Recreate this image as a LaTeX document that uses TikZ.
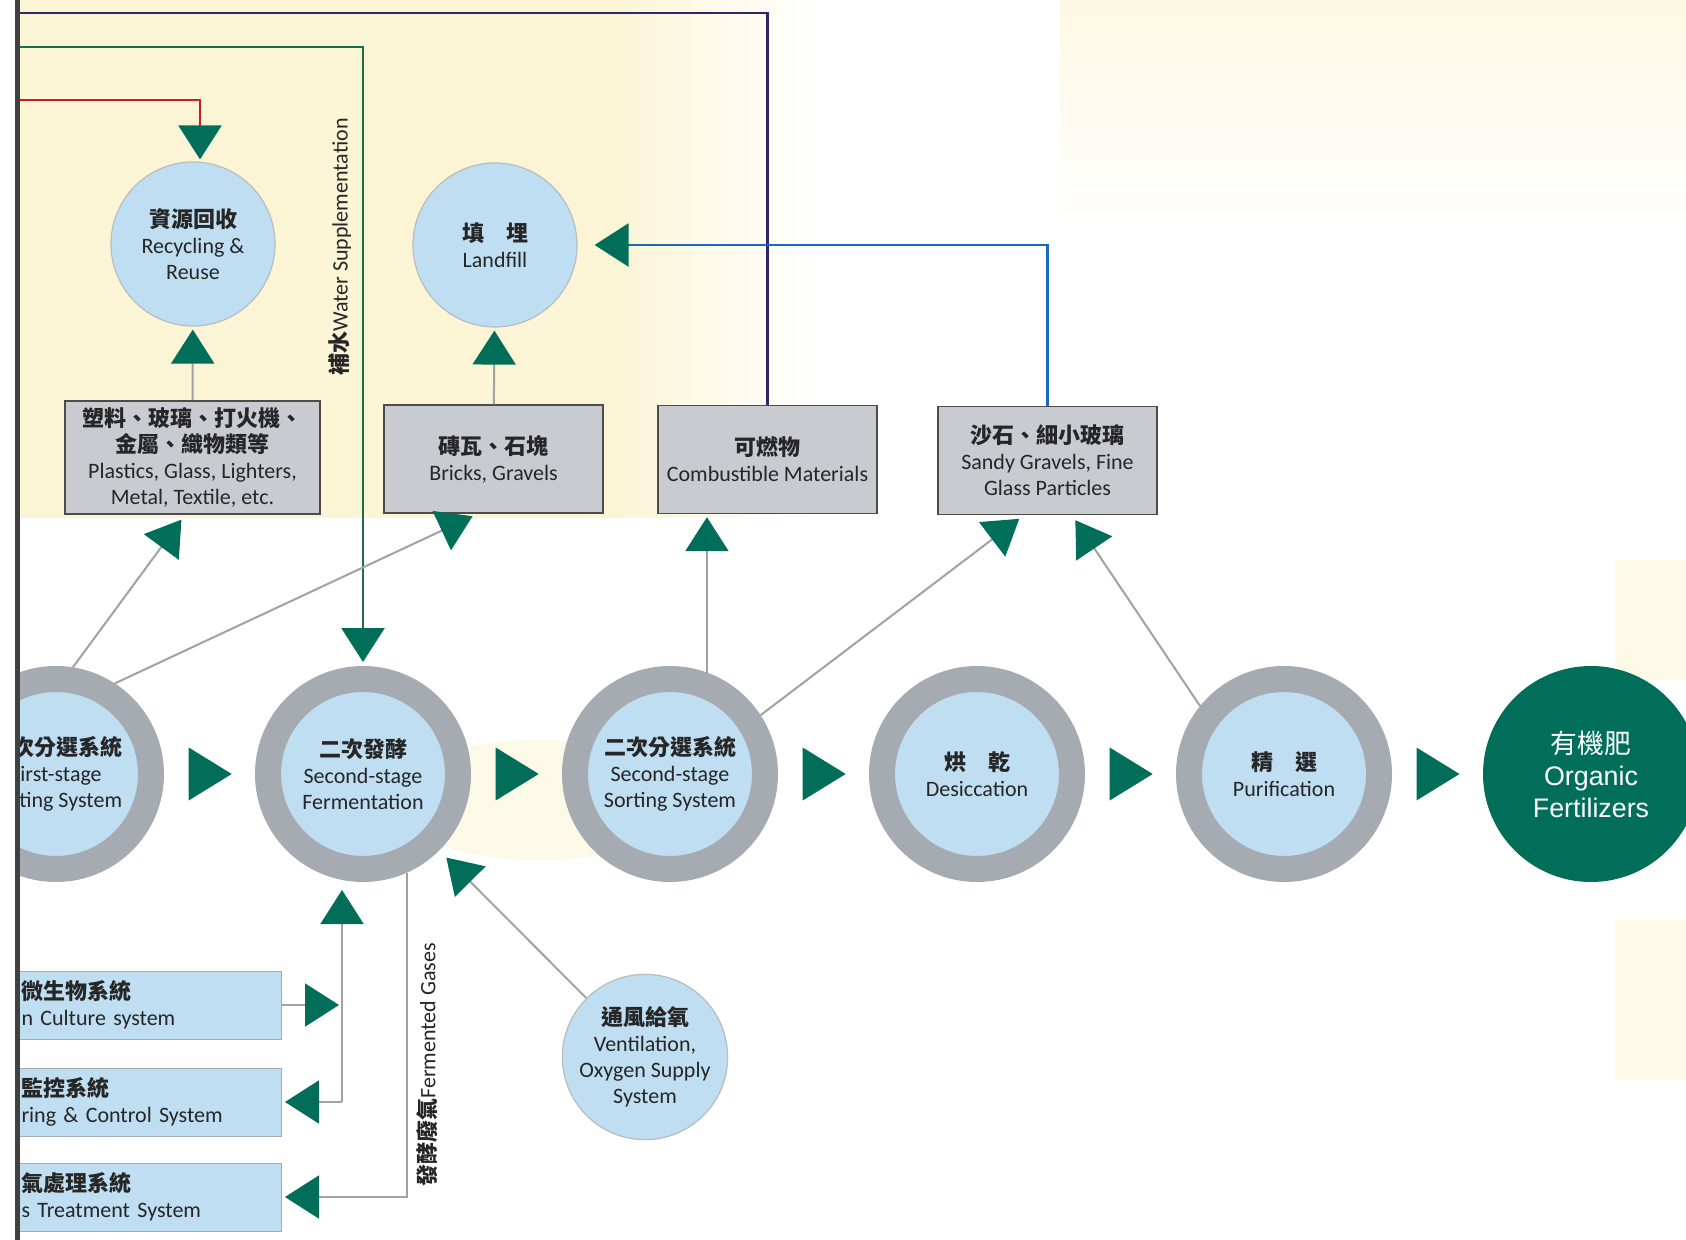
\documentclass[tikz,border=0pt]{standalone}
\usepackage{fontspec}
\setmainfont{Carlito}
\newfontfamily\cjk{Noto Sans CJK TC}
\newfontfamily\arial{Liberation Sans}
\usetikzlibrary{arrows.meta,positioning,shapes.geometric}

\definecolor{ringgray}{RGB}{166,171,177}
\definecolor{paleblue}{RGB}{191,222,242}
\definecolor{boxgray}{RGB}{200,204,209}
\definecolor{tipgreen}{RGB}{0,110,88}
\definecolor{linegray}{RGB}{160,162,165}
\definecolor{recred}{RGB}{200,30,40}
\definecolor{watergreen}{RGB}{25,110,75}
\definecolor{fuelnavy}{RGB}{45,40,105}
\definecolor{sandblue}{RGB}{25,105,190}
\definecolor{cream}{RGB}{251,245,214}

\newcommand{\zh}[1]{{\cjk\bfseries #1}}

\begin{document}
\begin{tikzpicture}[x=0.5pt,y=-0.5pt,->,>={Triangle[length=17pt,width=21.5pt,color=tipgreen]},
                    node distance=153.5pt,font=\fontsize{11}{13}\selectfont,text=black!85]
  \tikzstyle{stage}=[circle,fill=paleblue,draw=ringgray,line width=13pt,minimum size=95pt,inner sep=0pt,align=center]
  \tikzstyle{product}=[circle,fill=tipgreen,minimum size=108pt,inner sep=0pt,align=center,text=white,
                       font=\arial\fontsize{13.4}{16}\selectfont]
  \tikzstyle{store}=[circle,fill=paleblue,draw=ringgray!80,line width=0.6pt,minimum size=82pt,inner sep=0pt,align=center]
  \tikzstyle{waste}=[rectangle,fill=boxgray,draw=black!70,line width=0.7pt,minimum width=109.5pt,minimum height=54pt,align=center]
  \tikzstyle{unit}=[rectangle,fill=paleblue,draw=ringgray,line width=0.5pt,minimum width=133pt,minimum height=34pt,
                    inner xsep=3pt,text width=127pt,align=left,anchor=east]
  \tikzstyle{flowtri}=[isosceles triangle,isosceles triangle stretches,fill=tipgreen,inner sep=0pt,outer sep=0pt,
                       minimum width=26.5pt,minimum height=21.5pt,xshift=-3pt]
  \tikzstyle{feed}=[draw=linegray,line width=1pt,shorten >=1.5pt]
  \tikzstyle{recline}=[draw=recred,line width=1.2pt,shorten >=1pt]
  \tikzstyle{waterline}=[draw=watergreen,line width=1.2pt,shorten >=2pt]
  \tikzstyle{fuelline}=[draw=fuelnavy,line width=1.2pt]
  \tikzstyle{sandline}=[draw=sandblue,line width=1.2pt,shorten >=8.5pt]

  % background
  \useasboundingbox (0,0) rectangle (1686,1240);
  \fill[white] (0,0) rectangle (1686,1240);
  \fill[cream] (20,0) rectangle (620,518);
  \shade[left color=cream,right color=white] (620,0) rectangle (820,518);
  \shade[top color=cream!70,bottom color=white] (1060,0) rectangle (1686,230);
  \fill[cream!60] (1615,560) rectangle (1686,680);
  \fill[cream!60] (1615,920) rectangle (1686,1080);
  \fill[cream!60] (540,800) ellipse [x radius=150,y radius=60];

  % main line
  \node[stage] (sort1) at (56,774) {\phantom{\zh{一}}\zh{次分選系統}\\First-stage\\\phantom{Sor}ting System};
  \node[stage] (ferm) [right of=sort1] {\zh{二次發酵}\\Second-stage\\Fermentation};
  \node[stage] (sort2) [right of=ferm] {\zh{二次分選系統}\\Second-stage\\Sorting System};
  \node[stage] (dry) [right of=sort2] {\zh{烘　乾}\\Desiccation};
  \node[stage] (purif) [right of=dry] {\zh{精　選}\\Purification};
  \node[product] (organic) [right of=purif] {{\cjk 有機肥}\\Organic\\Fertilizers};

  % outputs
  \node[store] (recyc) at (193,244) {\zh{資源回收}\\Recycling \&\\Reuse};
  \node[store] (landfill) at (495,245) {\zh{填　埋}\\Landfill};
  \node[waste,minimum width=127.5pt,minimum height=54.5pt] (plast) at (192.5,457.5)
    {\zh{塑料、玻璃、打火機、}\\\zh{金屬、織物類等}\\Plastics, Glass, Lighters,\\Metal, Textile, etc.};
  \node[waste] (bricks) at (493.5,459) {\zh{磚瓦、石塊}\\Bricks, Gravels};
  \node[waste] (comb) at (767.5,459.5) {\zh{可燃物}\\Combustible Materials};
  \node[waste] (sandy) at (1047.5,460.5) {\zh{沙石、細小玻璃}\\Sandy Gravels, Fine\\Glass Particles};

  % support systems
  \node[store] (vent) at (645,1057) {\zh{通風給氧}\\Ventilation,\\Oxygen Supply\\System};
  \node[unit] (culture) at (282,1005) {\zh{微生物系統}\\n Culture system};
  \node[unit] (monitor) at (282,1102) {\zh{監控系統}\\ring \& Control System};
  \node[unit] (gas) at (282,1197) {\zh{氣處理系統}\\s Treatment System};

  \node[rotate=90] (waterlbl) at (340,247) {\zh{補水}Water Supplementation};
  \node[rotate=90] (gaslbl) at (427,1065) {\zh{發酵廢氣}Fermented Gases};

  \coordinate (recin) at (0,100);
  \coordinate (waterin) at (0,47);
  \coordinate (fuelout) at (0,13);
  \coordinate (junc) at (342,1102);

  \foreach \a/\b in {sort1/ferm,ferm/sort2,sort2/dry,dry/purif,purif/organic}
    \path (\a) -- node[flowtri] {} (\b);

  \draw[recline] (recin) -| ([xshift=3.5pt]recyc.north);
  \draw[waterline] (waterin) -| (ferm.north);
  \draw[fuelline,-] (comb.north) |- (fuelout);
  \draw[sandline] (sandy.north) |- (landfill.east);

  \draw[feed] (plast) -- (recyc);
  \draw[feed] (bricks) -- (landfill);
  \draw[feed,shorten >=3pt] (sort1.81) -- ([xshift=-3.75pt]plast.south);
  \draw[feed,shorten >=3pt] (sort1.57) -- ([xshift=-7.75pt]bricks.south);
  \draw[feed] (sort2.70) -- (sort2.70 |- comb.south);
  \draw[feed,shorten >=3pt] (sort2.33) -- ([xshift=-11.75pt]sandy.south);
  \draw[feed,shorten >=3pt] (purif.141) -- ([xshift=12.25pt]sandy.south);
  \draw[feed,shorten >=5pt] (vent) -- (ferm);
  \draw[feed] (culture.east) -- (culture.east -| junc);
  \draw[feed,shorten >=4pt] (junc) -- (junc |- ferm.south);
  \draw[feed] (junc) -- (monitor.east);
  \draw[feed] (ferm.-66) |- (gas.east);

  % binding edge
  \fill[white] (0,0) rectangle (15,1240);
  \fill[black!75] (15,0) rectangle (20,1240);
\end{tikzpicture}
\end{document}
